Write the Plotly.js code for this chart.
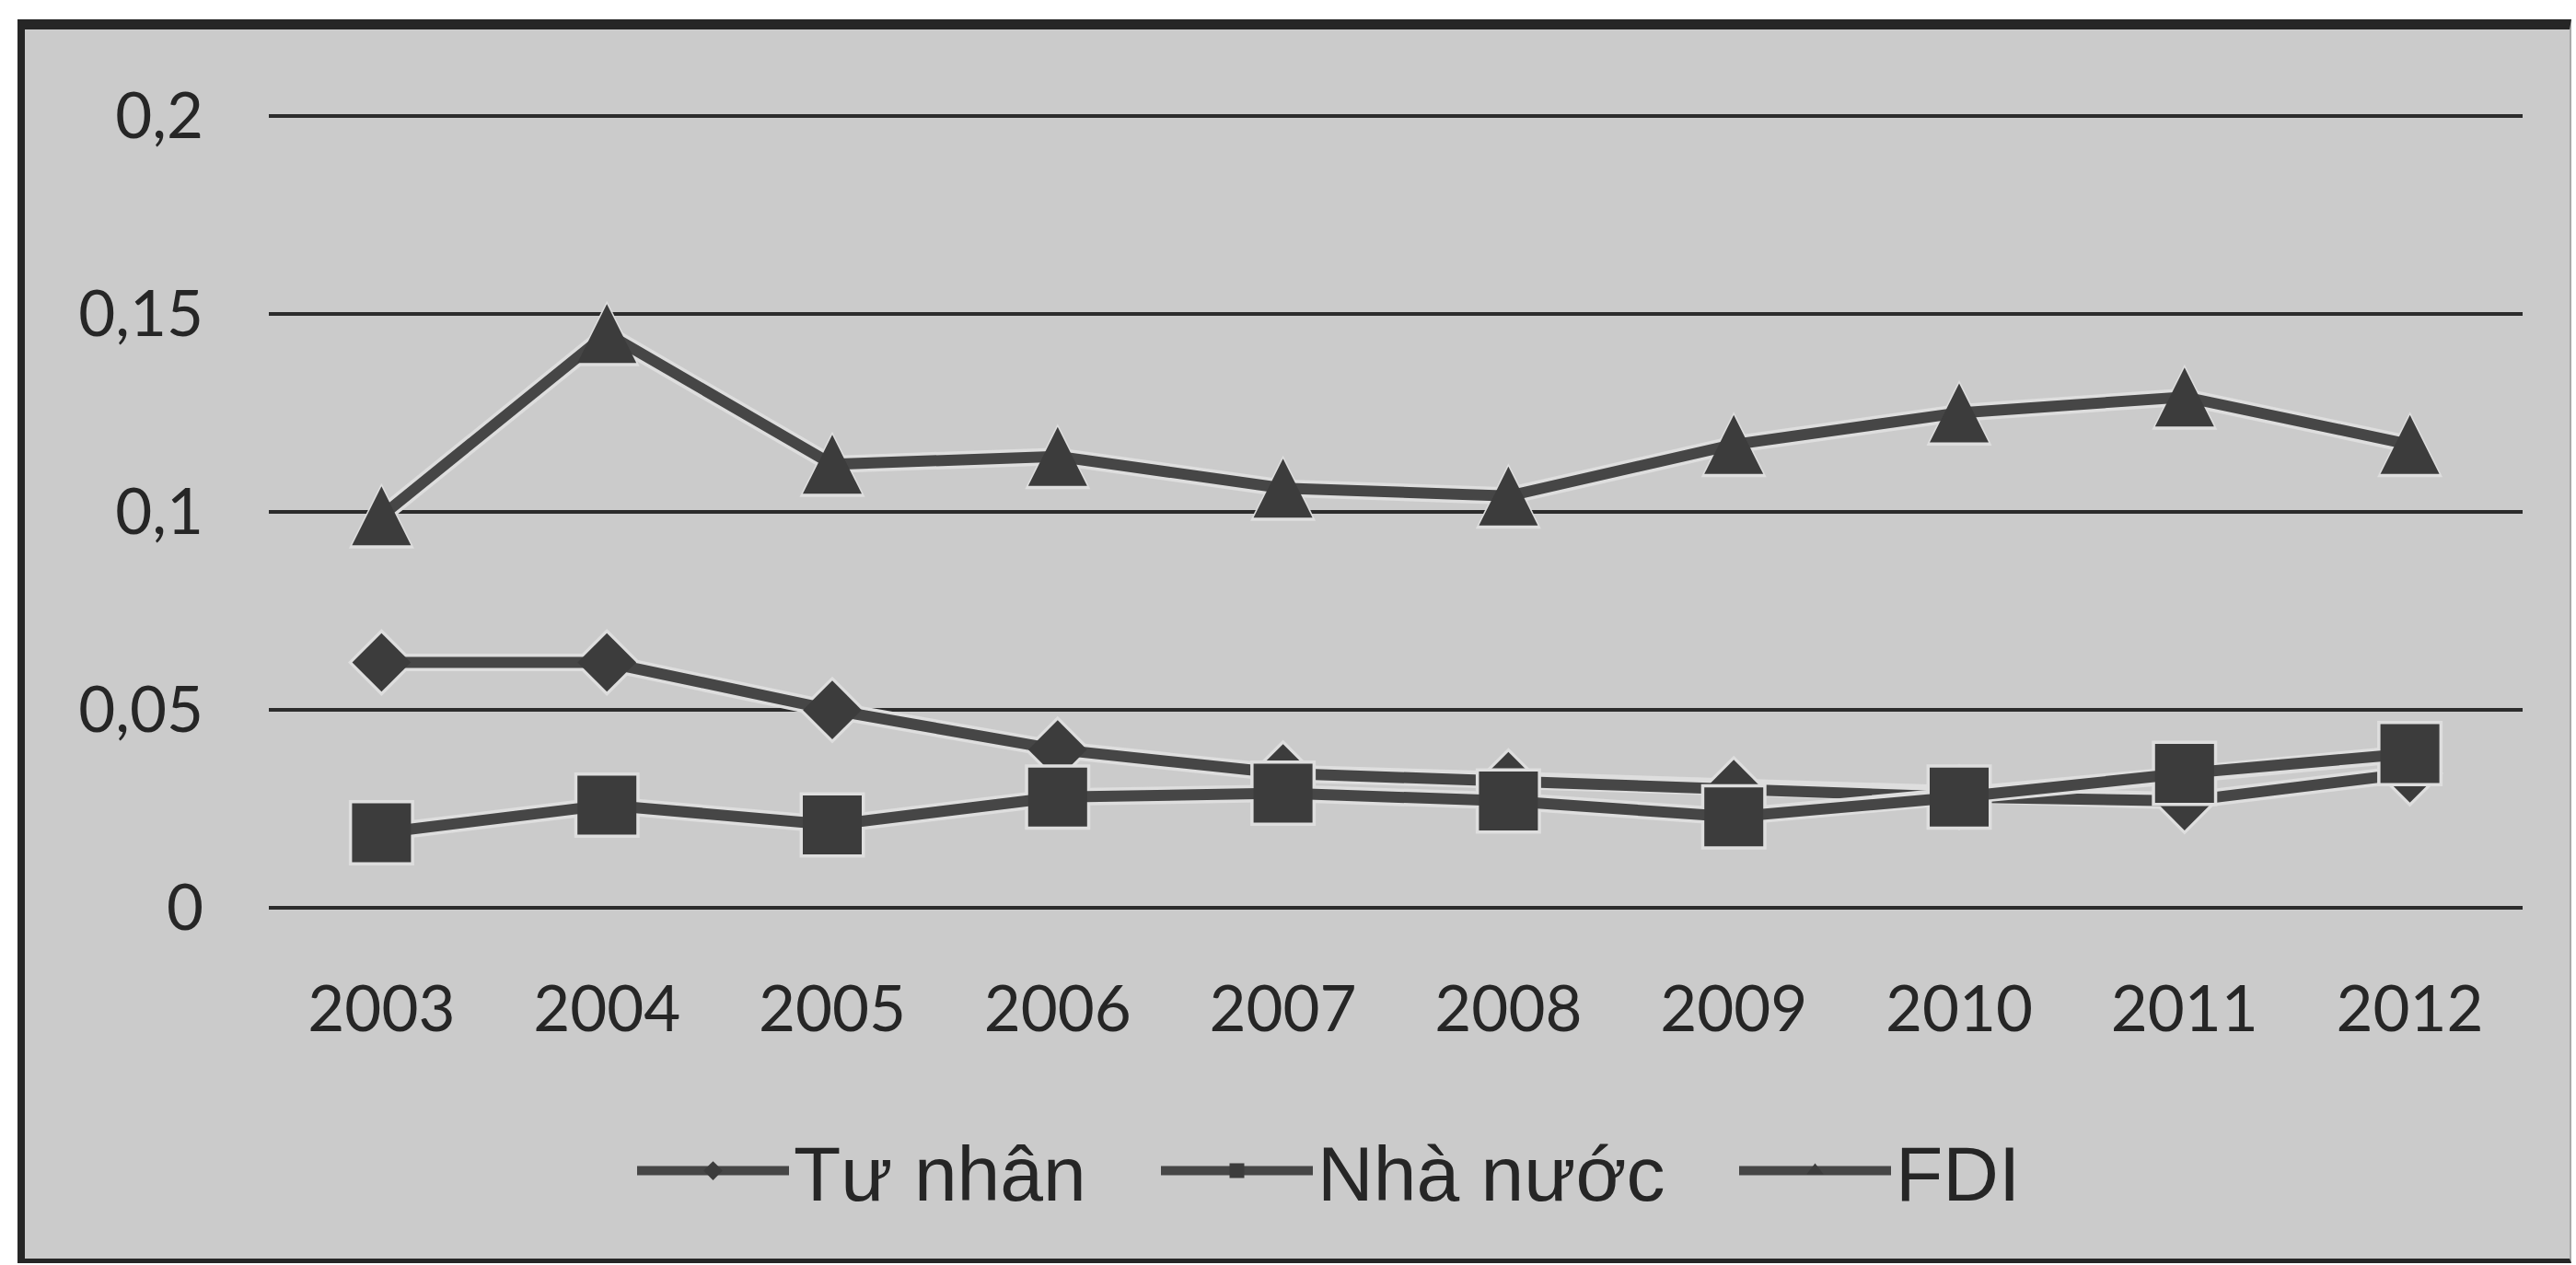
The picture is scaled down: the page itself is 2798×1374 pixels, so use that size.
<!DOCTYPE html>
<html>
<head>
<meta charset="utf-8">
<script src="https://cdn.plot.ly/plotly-3.0.1.min.js"></script>
<style>
  html, body { margin: 0; padding: 0; background: #ffffff; width: 2798px; height: 1374px; overflow: hidden; }
  #frame {
    position: absolute; left: 19px; top: 21px; width: 2774px; height: 1351px;
    box-sizing: border-box; background: #cbcbcb;
    border-left: 8px solid #262626; border-top: 11px solid #262626;
    border-bottom: 5px solid #262626; border-right: 2px solid #a9a9a9;
  }
  #chart { position: absolute; left: 0; top: 0; width: 2798px; height: 1374px; }
</style>
</head>
<body>
<div id="frame"></div>
<div id="chart"></div>
<script>
// ---- data ----
const years = ['2003', '2004', '2005', '2006', '2007', '2008', '2009', '2010', '2011', '2012'];
const tuNhan  = [0.062, 0.062, 0.050, 0.040, 0.034, 0.032, 0.030, 0.028, 0.027, 0.034];
const nhaNuoc = [0.019, 0.026, 0.021, 0.028, 0.029, 0.027, 0.023, 0.028, 0.034, 0.039];
const fdi     = [0.099, 0.145, 0.112, 0.114, 0.106, 0.104, 0.117, 0.125, 0.129, 0.117];
const seriesNames = ['Tư nhân', 'Nhà nước', 'FDI'];
const yTickVals = [0, 0.05, 0.1, 0.15, 0.2];
const yTickText = ['0', '0,05', '0,1', '0,15', '0,2'];

// ---- styles ----
const lineColor = '#464646';
const markerColor = '#3c3c3c';
const haloColor = '#dedede';
const lw = 12;

// centred upward triangle: an 'arrow-down' turned by 180 degrees and shifted by half its size
function markerStyle(kind, size, color) {
  if (kind === 'triangle') {
    return { symbol: 'arrow-down', angle: 180, standoff: size / 2, size: size, color: color };
  }
  return { symbol: kind, size: size, color: color };
}

function halo(y, kind, size) {
  return {
    x: years, y: y, type: 'scatter', mode: 'lines+markers',
    line: { color: haloColor, width: lw + 7, backoff: 0 },
    marker: markerStyle(kind, size + 7, haloColor),
    showlegend: false, hoverinfo: 'skip'
  };
}
function series(name, y, kind, size, legendwidth, showlegend) {
  const t = {
    x: years, y: y, name: name, type: 'scatter', mode: 'lines+markers',
    line: { color: lineColor, width: lw, backoff: 0 },
    marker: markerStyle(kind, size, markerColor),
    hoverinfo: 'x+y+name', showlegend: showlegend
  };
  if (legendwidth) t.legendwidth = legendwidth;
  return t;
}
// legend entry for FDI (a plain triangle-up, fully hidden under the FDI line and markers)
const fdiLegend = {
  x: years, y: fdi, name: seriesNames[2], type: 'scatter', mode: 'lines+markers',
  line: { color: lineColor, width: lw },
  marker: { symbol: 'triangle-up', size: 16, color: markerColor },
  hoverinfo: 'skip', showlegend: true
};

const traces = [
  halo(tuNhan, 'diamond', 49),
  series(seriesNames[0], tuNhan, 'diamond', 49, 389, true),
  halo(nhaNuoc, 'square', 64),
  series(seriesNames[1], nhaNuoc, 'square', 64, 448, true),
  fdiLegend,
  halo(fdi, 'triangle', 64),
  series(seriesNames[2], fdi, 'triangle', 64, 0, false)
];

const tickFont = { family: 'Lato, "Open Sans", sans-serif', size: 69, color: '#262626' };

const layout = {
  width: 2798, height: 1374,
  paper_bgcolor: 'rgba(0,0,0,0)', plot_bgcolor: 'rgba(0,0,0,0)',
  separators: ', ',
  margin: { l: 292, r: 58, t: 124, b: 386, pad: 0 },
  xaxis: {
    type: 'category', range: [-0.5, 9.5],
    showgrid: false, zeroline: false, showline: false, ticks: '',
    tickfont: tickFont, ticklabelstandoff: 62, fixedrange: true
  },
  yaxis: {
    range: [-0.0004, 0.2004],
    tickvals: yTickVals, ticktext: yTickText,
    showgrid: true, gridcolor: '#2c2c2c', gridwidth: 4,
    zeroline: false, showline: false, ticks: '',
    tickfont: tickFont, ticklabelstandoff: 70, fixedrange: true
  },
  showlegend: true,
  legend: {
    orientation: 'h', xref: 'container', yref: 'container',
    x: 687 / 2798, xanchor: 'left',
    y: 1 - 1272 / 1374, yanchor: 'middle',
    font: { family: '"Liberation Sans", Arial, sans-serif', size: 84, color: '#262626' },
    itemwidth: 165, bgcolor: 'rgba(0,0,0,0)', borderwidth: 0,
    traceorder: 'normal'
  }
};

Plotly.newPlot('chart', traces, layout, { displayModeBar: false, staticPlot: true });
</script>
</body>
</html>
